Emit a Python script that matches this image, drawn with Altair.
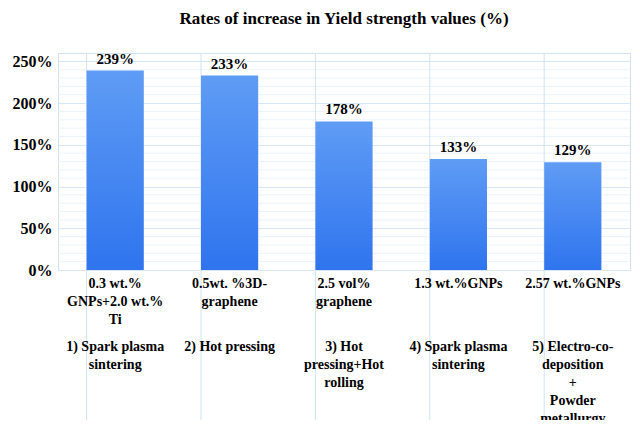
import pandas as pd
import altair as alt

materials = ['0.3 wt.%\nGNPs+2.0 wt.%\nTi', '0.5wt. %3D-\ngraphene', '2.5 vol%\ngraphene',
             '1.3 wt.%GNPs', '2.57 wt.%GNPs']
methods = ['1) Spark plasma\nsintering', '2) Hot pressing', '3) Hot\npressing+Hot\nrolling',
           '4) Spark plasma\nsintering', '5) Electro-co-\ndeposition\n+\nPowder\nmetallurgy']
values = [239, 233, 178, 133, 129]
keys = ['c1', 'c2', 'c3', 'c4', 'c5']

df = pd.DataFrame({'key': keys, 'value': values, 'material': materials, 'method': methods,
                   'label': [f'{v}%' for v in values]})
df['material'] = df['material'].str.split('\n')
df['method'] = df['method'].str.split('\n')

minor = pd.DataFrame({'v': [v for v in range(10, 250, 10) if v % 50]})
seps = pd.DataFrame({'key': keys})

font = 'Liberation Serif'
H = 217
x = alt.X('key:N', scale=alt.Scale(domain=keys, paddingInner=0.5, paddingOuter=0.25), axis=None)

grid_minor = alt.Chart(minor).mark_rule(color='#eaf3fb', strokeWidth=1).encode(y=alt.Y('v:Q'))

rules = alt.Chart(seps).mark_rule(color='#cfe3f5', strokeWidth=1).encode(
    x=alt.X('key:N', scale=alt.Scale(domain=keys, paddingInner=0.5, paddingOuter=0.25),
            axis=None, bandPosition=0),
    y=alt.value(0), y2=alt.value(H + 160))

bars = alt.Chart(df).mark_bar(
    color=alt.Gradient(gradient='linear', x1=0, x2=0, y1=0, y2=1,
                       stops=[alt.GradientStop(color='#5f9cf5', offset=0),
                              alt.GradientStop(color='#2f74ee', offset=1)])
).encode(
    x=x,
    y=alt.Y('value:Q', scale=alt.Scale(domain=[0, 250]),
            axis=alt.Axis(values=[0, 50, 100, 150, 200, 250], labelExpr="datum.value + '%'",
                          title=None, domain=False, ticks=False, gridColor='#d6e8f7',
                          labelFont=font, labelFontSize=16, labelFontWeight='bold',
                          labelColor='black', labelPadding=6)),
)

vals = bars.mark_text(dy=-12, font=font, fontSize=15, fontWeight='bold', color='black').encode(
    text='label:N')

mat = alt.Chart(df).mark_text(font=font, fontSize=14, fontWeight='bold', baseline='top',
                              lineHeight=18, color='black').encode(
    x=x, y=alt.value(H + 7), text='material')
met = alt.Chart(df).mark_text(font=font, fontSize=14, fontWeight='bold', baseline='top',
                              lineHeight=18, color='black').encode(
    x=x, y=alt.value(H + 70), text='method')

chart = alt.layer(grid_minor, rules, bars, vals, mat, met).properties(
    width=572, height=H,
    padding={'left': 50, 'top': 45, 'right': 2, 'bottom': 150},
    autosize=alt.AutoSizeParams(type='none'),
    title=alt.TitleParams('Rates of increase in Yield strength values (%)', font=font,
                          fontSize=17, fontWeight='bold', color='black', offset=24),
).configure_view(stroke='#cfe3f5')

chart.save("out.html", embed_options={"renderer": "svg", "actions": False})
